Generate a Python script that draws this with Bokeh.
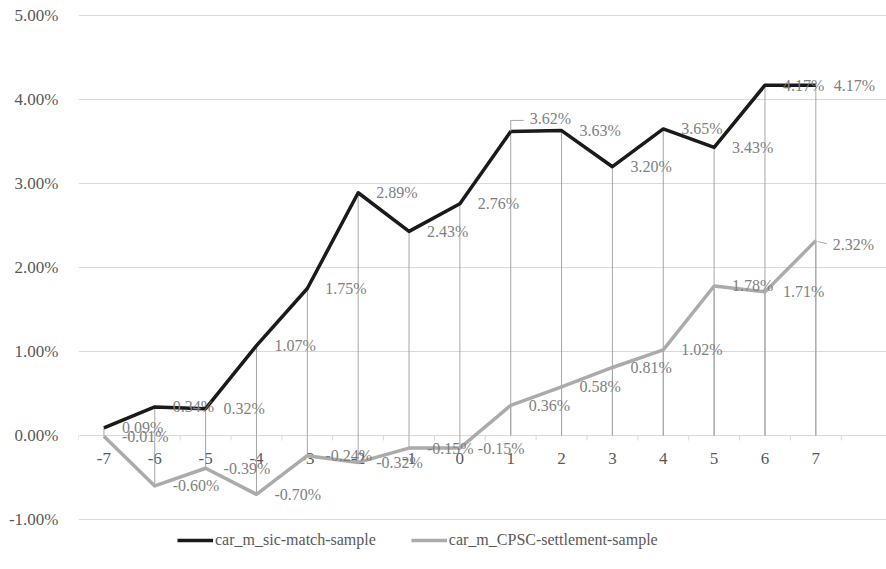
from bokeh.plotting import figure
from bokeh.models import (ColumnDataSource, FixedTicker, PrintfTickFormatter,
                          Range1d, Legend, LegendItem)
from bokeh.embed import file_html
from bokeh.resources import INLINE
from bokeh.core.properties import value

# ---------------- data ----------------
categories = ["-7", "-6", "-5", "-4", "-3", "-2", "-1", "0",
              "1", "2", "3", "4", "5", "6", "7"]
sic_match = [0.09, 0.34, 0.32, 1.07, 1.75, 2.89, 2.43, 2.76,
             3.62, 3.63, 3.20, 3.65, 3.43, 4.17, 4.17]
cpsc_settlement = [-0.01, -0.60, -0.39, -0.70, -0.24, -0.32, -0.15, -0.15,
                   0.36, 0.58, 0.81, 1.02, 1.78, 1.71, 2.32]
y_ticks = [-1, 0, 1, 2, 3, 4, 5]
series_names = ["car_m_sic-match-sample", "car_m_CPSC-settlement-sample"]

# ---------------- layout ----------------
W, H = 886, 569
LEFT = 78
FRAME_W = W - LEFT
FRAME_H = H
x0, x1 = -7.5, 8.39
y0, y1 = -1.595, 5.1786
px_x = FRAME_W / (x1 - x0)
px_y = FRAME_H / (y1 - y0)

FONT = "Liberation Serif"
TXT = "#595959"
LBL = "#7f7f7f"
GRID = "#d9d9d9"
DROP = "#a6a6a6"
C_BLACK = "#1a1a1a"
C_GRAY = "#ababab"

xs = [float(c) for c in categories]

p = figure(width=W, height=H, output_backend="svg", toolbar_location=None,
           x_range=Range1d(x0, x1), y_range=Range1d(y0, y1),
           x_axis_location=None, min_border_left=LEFT, min_border_right=0,
           min_border_top=0, min_border_bottom=0)
p.outline_line_color = None
p.background_fill_color = "white"
p.border_fill_color = "white"
p.xgrid.visible = False

yax = p.yaxis[0]
yax.ticker = FixedTicker(ticks=y_ticks)
yax.formatter = PrintfTickFormatter(format="%.2f%%")
yax.axis_line_color = None
yax.major_tick_line_color = None
yax.minor_tick_line_color = None
yax.major_label_standoff = 14
yax.major_label_text_font = FONT
yax.major_label_text_font_size = "17px"
yax.major_label_text_color = TXT
p.ygrid.ticker = FixedTicker(ticks=y_ticks)
p.ygrid.grid_line_color = GRID
p.ygrid.grid_line_width = 1

# category tick marks on the zero line (at category boundaries)
bounds = [x - 0.5 for x in xs] + [xs[-1] + 0.5]
p.segment(x0=bounds, y0=[0] * len(bounds), x1=bounds,
          y1=[-5 / px_y] * len(bounds), line_color=GRID, line_width=1)

# category labels
p.text(x=xs, y=[0] * len(xs), text=categories, text_align="center",
       text_baseline="middle", y_offset=23, text_font=value(FONT),
       text_font_size="17px", text_color=TXT)

# drop lines
for vals in (sic_match, cpsc_settlement):
    p.segment(x0=xs, y0=[0] * len(xs), x1=xs, y1=vals,
              line_color=DROP, line_width=1)

r_gray = p.line(xs, cpsc_settlement, line_color=C_GRAY, line_width=3.5,
                line_join="round")
r_black = p.line(xs, sic_match, line_color=C_BLACK, line_width=3.5,
                 line_join="round")

# data labels
def labels(vals, special):
    xo, yo = [], []
    for i, v in enumerate(vals):
        dx, dy = special.get(i, (18, 0))
        xo.append(dx)
        yo.append(dy)
    src = ColumnDataSource(dict(x=xs, y=vals,
                                t=["%.2f%%" % v for v in vals],
                                xo=xo, yo=yo))
    p.text(x="x", y="y", text="t", x_offset="xo", y_offset="yo",
           source=src, text_align="left", text_baseline="middle",
           text_font=value(FONT), text_font_size="16px", text_color=LBL)

labels(sic_match, {8: (19, -13)})
labels(cpsc_settlement, {14: (17, 4)})

# leader lines for moved labels
i = 8
lx, ly = xs[i], sic_match[i]
p.line([lx, lx, lx + 13 / px_x], [ly, ly + 11 / px_y, ly + 11 / px_y],
       line_color=DROP, line_width=1)
i = 14
lx, ly = xs[i], cpsc_settlement[i]
p.line([lx + 2 / px_x, lx + 11 / px_x], [ly - 1 / px_y, ly - 3 / px_y],
       line_color=DROP, line_width=1)

legend = Legend(items=[LegendItem(label=series_names[0], renderers=[r_black]),
                       LegendItem(label=series_names[1], renderers=[r_gray])],
                orientation="horizontal", location=(99, 19), margin=0,
                padding=0, spacing=35, label_standoff=2, glyph_width=36,
                glyph_height=20, label_height=20,
                label_text_font=FONT, label_text_font_size="16px",
                label_text_color=TXT, background_fill_alpha=0,
                border_line_alpha=0)
p.add_layout(legend)

open("out.html", "w").write(file_html(p, INLINE))
